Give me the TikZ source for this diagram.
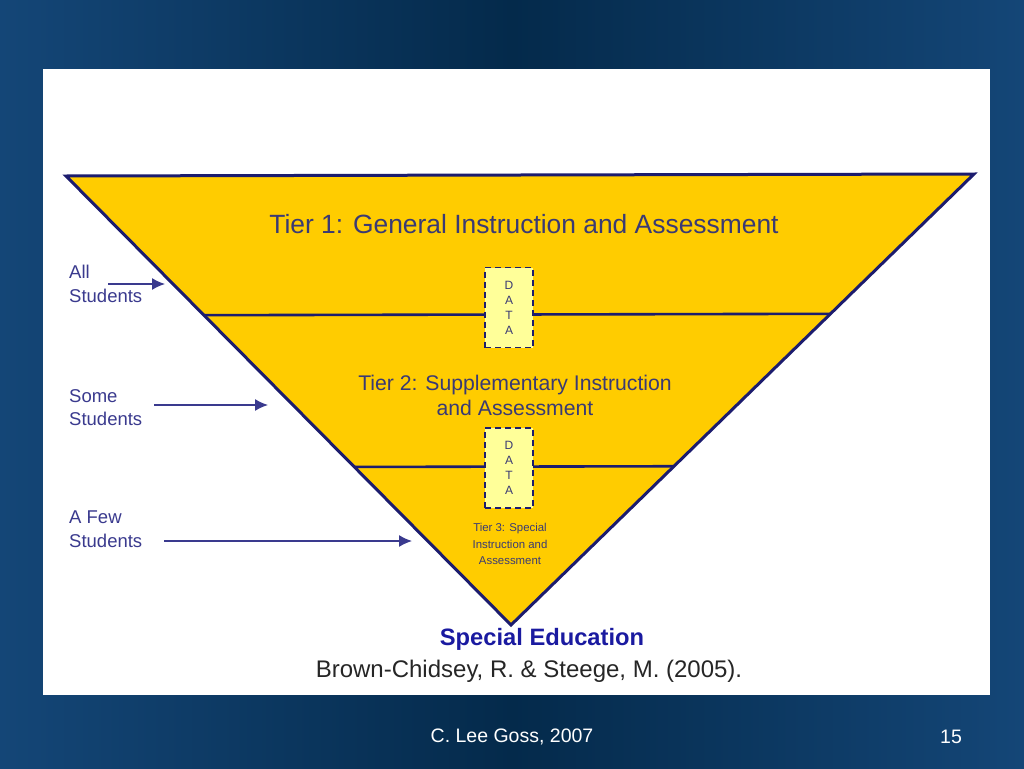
\documentclass[tikz,border=0pt]{standalone}
\usepackage{fontspec}
\setmainfont{Liberation Sans}
\usetikzlibrary{calc,arrows.meta}

\definecolor{slidebg}{HTML}{042A4B}
\definecolor{slideside}{HTML}{144677}
\definecolor{tiergold}{HTML}{FFCC00}
\definecolor{tierline}{HTML}{1C1C6E}
\definecolor{tiertext}{HTML}{3A3A74}
\definecolor{datafill}{HTML}{FFFF99}
\definecolor{whoblue}{HTML}{3A3A8E}
\definecolor{spedblue}{HTML}{1A1AA0}

\begin{document}
\begin{tikzpicture}[x=1pt,y=-1pt,
        tiertitle/.style={text=tiertext, font=\fontsize{26.4}{31}\selectfont},
        tiersub/.style={text=tiertext, align=center, font=\fontsize{21.2}{25}\selectfont},
        tiersmall/.style={text=tiertext, align=center, font=\fontsize{11.4}{16.5}\selectfont},
        databox/.style={draw=tierline, dash pattern=on 6pt off 4pt, line width=1.4pt, fill=datafill,
            minimum width=48pt, minimum height=80pt, inner sep=0pt, align=center, text=tiertext,
            font=\fontsize{12}{15}\selectfont},
        who/.style={text=whoblue, anchor=north west, align=left, inner sep=0pt,
            font=\fontsize{18.5}{23.5}\selectfont},
        whoarrow/.style={draw=whoblue, line width=1.4pt, -{Latex[length=13pt,width=12pt]}}]
    \useasboundingbox (0,0) rectangle (1024,768);
    \shade[left color=slideside, right color=slideside, middle color=slidebg] (0,0) rectangle (1024,768);
    \fill[white] (43,69) rectangle (990,695);

    \coordinate (L) at (66,176);
    \coordinate (R) at (974,174);
    \coordinate (V) at (511,625);

    % tier boundaries on the two sides
    \coordinate (A1) at ($(L)!0.31!(V)$);
    \coordinate (B1) at ($(R)!0.31!(V)$);
    \coordinate (A2) at ($(L)!0.648!(V)$);
    \coordinate (B2) at ($(R)!0.648!(V)$);

    \filldraw[fill=tiergold, draw=tierline, line width=3pt, line join=miter] (L) -- (R) -- (V) -- cycle;
    \draw[tierline, line width=2.6pt] (A1) -- (B1);
    \draw[tierline, line width=2.6pt] (A2) -- (B2);

    \node[tiertitle] (tier1) at (524,224) {Tier 1: General Instruction and Assessment};
    \node[tiersub] (tier2) at (515,395) {Tier 2: Supplementary Instruction\\and Assessment};
    \node[tiersmall] (tier3) at (510,544) {Tier 3: Special\\Instruction and\\Assessment};

    \node[databox] (data1) at (509,307.5) {D\\A\\T\\A};
    \node[databox] (data2) at (509,468) {D\\A\\T\\A};

    % who gets each tier
    \node[who] (all) at (69,265) {All\\Students};
    \node[who] (some) at (69,389) {Some\\Students};
    \node[who] (few) at (69,511) {A Few\\Students};

    \coordinate (allend) at (165,284);
    \coordinate (someend) at (268,405);
    \coordinate (fewend) at (412,541);
    \draw[whoarrow] ($(all.north west)+(39,19)$) -- (allend);
    \draw[whoarrow] (some.east |- someend) ++(12,0) -- (someend);
    \draw[whoarrow] (few.east |- fewend) ++(22,0) -- (fewend);

    \node[text=spedblue, font=\bfseries\fontsize{23.7}{28}\selectfont] (sped) at (542,639) {Special Education};
    \node[text=black!85, font=\fontsize{24}{28}\selectfont] (cite) at (529,671) {Brown-Chidsey, R. \& Steege, M. (2005).};

    \node[text=white, font=\fontsize{19.5}{23}\selectfont] (author) at (512,737) {C. Lee Goss, 2007};
    \node[text=white, font=\fontsize{19.5}{23}\selectfont] (page) at (951,737) {15};
\end{tikzpicture}
\end{document}
